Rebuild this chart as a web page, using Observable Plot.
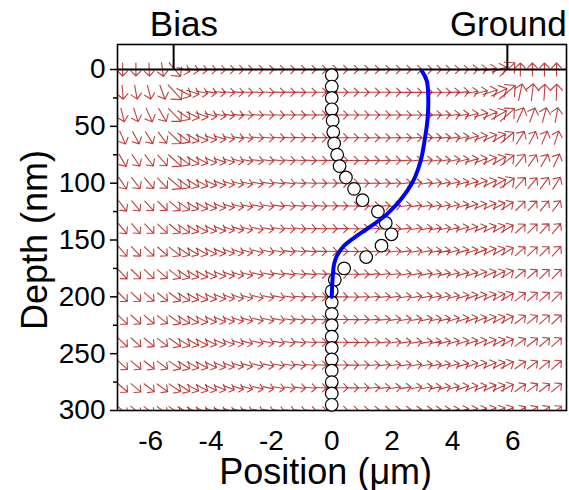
<!DOCTYPE html>
<html>
<head>
<meta charset="utf-8">
<script src="https://cdn.jsdelivr.net/npm/d3@7"></script>
<script src="https://cdn.jsdelivr.net/npm/@observablehq/plot@0.6"></script>
<style>
  html, body { margin: 0; padding: 0; background: #fff; }
  #chart svg { display: block; }
</style>
</head>
<body>
<div id="chart"></div>
<script>
// Field sample grid: depth rows (nm) and lateral mesh columns (µm)
const depthRows = [0, 20, 40, 60, 80, 100, 120, 140, 160, 180, 200, 220, 240, 260, 280, 300];
const columnX = [
  -6.93, -6.49, -6.05, -5.61,
  -5.2,
  -4.9, -4.6, -4.3, -4.0, -3.7, -3.4, -3.1, -2.8,
  -2.45, -2.1, -1.75, -1.4, -1.05, -0.7, -0.35, 0, 0.35, 0.7, 1.05, 1.4, 1.75, 2.1, 2.45, 2.8, 3.15,
  3.45, 3.75, 4.05, 4.35, 4.65, 4.95, 5.25, 5.55,
  5.82,
  6.25, 6.65, 7.05, 7.45
];

// Field direction per row (degrees, 0 = +x, 90 = deeper), grouped:
// under Bias | Bias edge | near Bias | channel | near Ground | Ground edge | under Ground
const angleRows = [
  "90 90 88 82 | 50 | 18 10 6 4 3 2 1 1 | 0 0 0 0 0 0 0 0 0 0 0 0 0 0 0 0 0 | 0 -1 -2 -3 -5 -8 -12 -20 | -42 | -90 -90 -90 -90",
  "85 80 76 70 | 48 | 28 18 12 9 7 5 4 3 | 2 2 1 1 1 0 0 0 0 0 0 0 0 0 -1 -1 -1 | -2 -3 -4 -6 -9 -13 -18 -26 | -40 | -78 -83 -86 -88",
  "76 72 66 60 | 45 | 34 26 20 15 12 9 7 5 | 4 3 3 2 2 1 1 0 0 0 -1 -1 -1 -2 -2 -2 -3 | -4 -5 -7 -10 -13 -17 -23 -30 | -42 | -65 -70 -75 -80",
  "66 62 58 53 | 43 | 36 30 25 20 16 13 10 8 | 6 5 4 3 3 2 1 1 0 -1 -1 -2 -2 -3 -3 -4 -5 | -6 -7 -9 -12 -15 -19 -24 -30 | -40 | -58 -62 -67 -72",
  "60 57 53 49 | 42 | 36 31 27 23 19 16 13 10 | 8 7 6 5 4 3 2 1 0 -1 -2 -3 -3 -4 -5 -6 -7 | -8 -9 -11 -13 -16 -20 -25 -30 | -38 | -52 -55 -60 -65",
  "56 53 50 46 | 40 | 35 31 27 24 20 17 14 12 | 10 8 7 6 5 4 2 1 0 -1 -2 -3 -4 -5 -6 -7 -8 | -9 -11 -13 -15 -18 -21 -25 -29 | -35 | -48 -50 -54 -58",
  "53 51 48 45 | 40 | 35 31 28 25 21 18 15 13 | 11 9 8 7 5 4 3 1 0 -1 -2 -3 -5 -6 -7 -8 -9 | -10 -12 -14 -16 -19 -22 -25 -28 | -33 | -45 -47 -50 -53",
  "51 49 46 43 | 39 | 35 31 28 25 22 19 16 14 | 12 10 9 7 6 4 3 2 0 -1 -3 -4 -5 -6 -8 -9 -10 | -11 -12 -14 -16 -19 -22 -25 -28 | -32 | -42 -44 -47 -50",
  "49 47 44 42 | 38 | 34 31 28 25 22 19 17 15 | 13 11 9 8 6 5 3 2 0 -1 -3 -4 -6 -7 -8 -9 -10 | -11 -13 -15 -17 -19 -22 -25 -28 | -31 | -41 -43 -45 -48",
  "47 45 43 41 | 37 | 34 31 28 25 22 19 17 15 | 13 11 10 8 6 5 3 2 0 -1 -3 -5 -6 -7 -9 -10 -11 | -12 -13 -15 -17 -19 -22 -25 -28 | -30 | -40 -42 -44 -46",
  "45 43 41 39 | 36 | 33 30 28 25 22 20 17 15 | 13 11 10 8 6 5 3 2 0 -1 -3 -5 -6 -8 -9 -10 -11 | -12 -14 -15 -17 -20 -22 -25 -28 | -30 | -38 -40 -42 -44",
  "44 42 40 38 | 35 | 33 30 27 25 22 20 17 15 | 13 12 10 8 7 5 3 2 0 -1 -3 -5 -6 -8 -9 -10 -11 | -12 -14 -16 -18 -20 -22 -25 -27 | -29 | -37 -39 -41 -43",
  "43 41 39 37 | 35 | 32 30 27 25 22 20 17 15 | 13 12 10 8 7 5 3 2 0 -1 -3 -5 -6 -8 -9 -10 -11 | -12 -14 -16 -18 -20 -22 -24 -27 | -29 | -36 -38 -40 -42",
  "42 40 38 37 | 34 | 32 29 27 24 22 20 17 15 | 13 12 10 8 7 5 3 2 0 -1 -3 -5 -6 -8 -9 -10 -11 | -12 -14 -16 -18 -20 -22 -24 -26 | -28 | -35 -37 -39 -41",
  "41 40 38 36 | 34 | 32 29 27 24 22 20 17 15 | 13 12 10 8 7 5 3 2 0 -1 -3 -5 -6 -8 -9 -10 -11 | -12 -14 -16 -18 -20 -22 -24 -26 | -28 | -35 -37 -38 -40",
  "40 39 37 36 | 34 | 32 29 27 24 22 20 17 15 | 13 12 10 8 7 5 3 2 0 -1 -3 -5 -6 -8 -9 -10 -11 | -12 -14 -16 -18 -20 -22 -24 -26 | -28 | -34 -36 -38 -40"
];

// Arrow lengths (px) per row, same grouping
const lenSurface = "13 13 13 14 | 18 | 13 12 11 11 11 11 11 11 | 11 11 11 11 11 11 11 11 11 11 11 11 11 11 11 11 11 | 11 11 11 11 12 12 13 15 | 20 | 13 13 13 13";
const lenShallow = "14 14 14 15 | 20 | 16 13 12 11 11 11 11 11 | 11 11 11 11 11 11 11 11 11 11 11 11 11 11 11 11 11 | 11 11 11 12 12 13 15 17 | 21 | 17 17 16 16";
const lenUpper   = "14 14 15 15 | 18 | 15 14 13 12 12 11 11 11 | 11 11 11 11 11 11 11 11 11 11 11 11 11 11 11 11 11 | 11 11 12 12 13 14 15 17 | 19 | 16 15 15 15";
const lenMiddle  = "14 14 14 14 | 17 | 15 14 13 12 12 11 11 11 | 11 11 11 11 11 11 11 11 11 11 11 11 11 11 11 11 11 | 11 11 12 12 13 13 14 15 | 17 | 15 14 14 14";
const lenDeep    = "13 13 13 13 | 14 | 14 13 13 12 12 11 11 11 | 11 11 11 11 11 11 11 11 11 11 11 11 11 11 11 11 11 | 11 11 11 12 12 12 13 13 | 14 | 13 13 13 13";
const lengthRows = [lenSurface, lenShallow, lenUpper, lenMiddle, lenMiddle, lenMiddle,
  lenDeep, lenDeep, lenDeep, lenDeep, lenDeep, lenDeep, lenDeep, lenDeep, lenDeep, lenDeep];

// Measured profile (open circles)
const dotDepth = [5, 15, 25, 35, 45, 55, 65, 75, 85, 95, 105, 115, 125, 135, 145, 155, 165, 175, 185, 195,
  205, 215, 225, 235, 245, 255, 265, 275, 285, 295];
const dotPosition = [0, 0, 0, 0, 0.03, 0.05, 0.08, 0.18, 0.26, 0.47, 0.74, 1.02, 1.53, 1.79, 1.98, 1.65, 1.14, 0.41, 0.1, 0,
  0, 0, 0, 0, 0, 0, 0, 0, 0, 0];

// Simulated profile (blue curve)
const curveDepth = [1.5, 10, 27, 45, 62, 80, 98, 114, 127, 137, 146, 155, 164, 171, 183, 200];
const curvePosition = [2.99, 3.15, 3.2, 3.17, 3.08, 2.95, 2.7, 2.3, 1.84, 1.35, 0.85, 0.41, 0.17, 0.08, 0.03, 0];

// Electrodes
const electrodeNames = ["Bias", "Ground"];
const electrodeEdge = [-5.24, 5.82];
const electrodeLabelX = [-4.9, 5.85];

// Axis ticks
const depthTicks = [0, 50, 100, 150, 200, 250, 300];
const depthMinorTicks = [25, 75, 125, 175, 225, 275];
const positionTicks = [-6, -4, -2, 0, 2, 4, 6];

const parseRow = s => s.replace(/\|/g, " ").trim().split(/\s+/).map(Number);

const field = [];
depthRows.forEach((depth, i) => {
  const angles = parseRow(angleRows[i]);
  const lens = parseRow(lengthRows[i]);
  columnX.forEach((x, j) => {
    if (angles[j] !== undefined) field.push({x, depth, angle: angles[j], len: lens[j]});
  });
});

const dots = dotDepth.map((depth, i) => ({depth, x: dotPosition[i]}));
const curve = curveDepth.map((depth, i) => ({depth, x: curvePosition[i]}));
const electrodes = electrodeNames.map((name, i) => ({name, edge: electrodeEdge[i], labelX: electrodeLabelX[i]}));

const xDomain = [-7.1, 7.78];
const font = "'Liberation Sans', Arial, sans-serif";

const chart = Plot.plot({
  width: 569,
  height: 490,
  marginLeft: 117,
  marginRight: 3,
  marginTop: 44,
  marginBottom: 80,
  style: {fontFamily: font, fontSize: "28px", background: "#fff", overflow: "visible"},
  x: {domain: xDomain},
  y: {domain: [-22, 300], reverse: true},
  length: {type: "linear", domain: [0, 100], range: [0, 100]},
  marks: [
    Plot.vector(field, {
      x: "x", y: "depth", rotate: d => d.angle + 90, length: "len",
      anchor: "middle", r: 6.5, stroke: "#b41d1d", strokeWidth: 1.1, strokeOpacity: 0.85,
      clip: "frame"
    }),
    Plot.ruleY([0], {stroke: "#000", strokeWidth: 2}),
    Plot.ruleX(electrodes, {x: "edge", y1: -22, y2: 0, stroke: "#000", strokeWidth: 2}),
    Plot.frame({stroke: "#000", strokeWidth: 1.6}),
    Plot.dot(dots, {x: "x", y: "depth", r: 6.3, fill: "#fff", stroke: "#000", strokeWidth: 1.2}),
    Plot.line(curve, {x: "x", y: "depth", stroke: "#0000ff", strokeWidth: 4, curve: "catmull-rom", strokeLinecap: "round"}),
    Plot.axisY({ticks: depthTicks, tickSize: 7, tickPadding: 5, fontSize: 28, strokeWidth: 1.5, label: null, tickFormat: d => String(d)}),
    Plot.axisY({ticks: depthMinorTicks, tickSize: 4, strokeWidth: 1.5, label: null, tickFormat: () => ""}),
    Plot.axisX({ticks: positionTicks, tickSize: 0, tickPadding: 20, fontSize: 28, label: null, tickFormat: d => String(d)}),
    Plot.text(electrodes, {x: "labelX", y: -22, dy: -9, text: "name", fontSize: 35, lineAnchor: "bottom", fill: "#000"}),
    Plot.text(["Position (μm)"], {x: -0.2, y: 300, dy: 73, text: d => d, fontSize: 36, lineAnchor: "bottom", fill: "#000"}),
    Plot.text(["Depth (nm)"], {x: xDomain[0], y: 150, dx: -82, text: d => d, rotate: -90, fontSize: 36, fill: "#000"})
  ]
});

// Make sure the axis tick labels use the large face as well
chart.querySelectorAll("g[aria-label='y-axis tick label'], g[aria-label='x-axis tick label']").forEach(g => {
  g.setAttribute("font-size", "28");
  g.style.fontSize = "28px";
});

document.getElementById("chart").appendChild(chart);
</script>
</body>
</html>
